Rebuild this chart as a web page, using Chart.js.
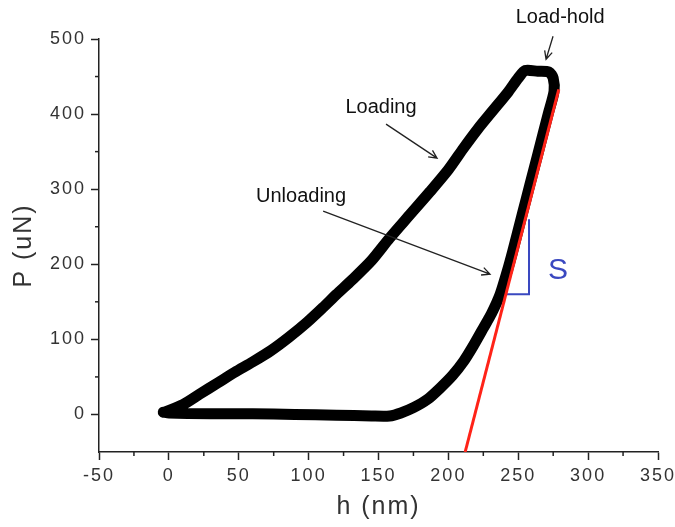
<!DOCTYPE html>
<html>
<head>
<meta charset="utf-8">
<script src="https://cdn.jsdelivr.net/npm/chart.js@4"></script>
<style>
  body { margin: 0; background: #fff; }
  canvas { display: block; }
</style>
</head>
<body>
<canvas id="curveChart" width="675" height="527"></canvas>
<script>
// loading branch, h (nm) / P (uN)
const loadH = [-3, 10, 22, 35, 47, 60, 73, 86, 99, 110, 120, 131, 145, 158, 172, 187, 200, 211, 221, 232, 243, 250, 255];
const loadP = [3, 13, 27, 42, 56, 70, 85, 103, 123, 142, 160, 179, 205, 235, 265, 297, 326, 355, 380, 405, 430, 448, 458];
// load-hold
const holdH = [264, 272];
const holdP = [457, 456];
// unloading branch
const unloadH = [275, 275.6, 271.4, 263.8, 258.2, 252.8, 246, 242, 237, 231, 225, 218, 211, 203, 194, 185, 175, 166, 158, 145, 120, 90, 60, 30, 0, -4];
const unloadP = [448, 430, 400, 345, 305, 266, 217, 190, 160, 135, 115, 92, 71, 52, 35, 20, 9, 2, -2, -2, -1, 0, 1, 1, 2, 3];
// tangent to the top of the unloading curve
const tangentH = [212, 279];
const tangentP = [-50, 433];
// the S bracket
const stiffH = [241.5, 257.7, 257.7];
const stiffP = [160, 160, 260];

const xTickLabels = [-50, 0, 50, 100, 150, 200, 250, 300, 350];
const yTickLabels = [0, 100, 200, 300, 400, 500];

const toPoints = (hs, ps) => hs.map((h, i) => ({ x: h, y: ps[i] }));
const curve = toPoints(loadH.concat(holdH, unloadH), loadP.concat(holdP, unloadP));

// text notes and arrows, in data units
const notes = [
  { text: 'Load-hold', at: [280, 528], from: [274.9, 503.7], to: [269.9, 473.1] },
  { text: 'Loading', at: [151.8, 409.2], from: [155.4, 386.6], to: [191.9, 341.4] },
  { text: 'Unloading', at: [94.6, 290.7], from: [110.4, 270.7], to: [229.8, 186.8] }
];

const notesPlugin = {
  id: 'notes',
  afterDraw(chart) {
    const ctx = chart.ctx;
    const xs = chart.scales.x, ys = chart.scales.y;
    const px = v => xs.getPixelForValue(v[0]);
    const py = v => ys.getPixelForValue(v[1]);

    // short minor ticks
    ctx.save();
    ctx.strokeStyle = '#222';
    ctx.lineWidth = 1.5;
    xs.ticks.forEach(t => {
      if (!xTickLabels.includes(t.value)) {
        const x = xs.getPixelForValue(t.value);
        ctx.beginPath(); ctx.moveTo(x, xs.top); ctx.lineTo(x, xs.top + 4); ctx.stroke();
      }
    });
    ys.ticks.forEach(t => {
      if (!yTickLabels.includes(t.value) && t.value !== -50) {
        const y = ys.getPixelForValue(t.value);
        ctx.beginPath(); ctx.moveTo(ys.right, y); ctx.lineTo(ys.right - 4, y); ctx.stroke();
      }
    });

    ctx.fillStyle = '#111';
    ctx.font = '20px "Liberation Sans", Arial, sans-serif';
    ctx.textAlign = 'center';
    ctx.textBaseline = 'middle';
    ctx.lineWidth = 1.3;
    notes.forEach(n => {
      ctx.fillText(n.text, px(n.at), py(n.at));
      const x1 = px(n.from), y1 = py(n.from), x2 = px(n.to), y2 = py(n.to);
      const a = Math.atan2(y2 - y1, x2 - x1);
      ctx.beginPath();
      ctx.moveTo(x1, y1); ctx.lineTo(x2, y2);
      ctx.moveTo(x2 - 9 * Math.cos(a - 0.45), y2 - 9 * Math.sin(a - 0.45));
      ctx.lineTo(x2, y2);
      ctx.lineTo(x2 - 9 * Math.cos(a + 0.45), y2 - 9 * Math.sin(a + 0.45));
      ctx.stroke();
    });

    ctx.fillStyle = '#3a48c0';
    ctx.font = '30px "Liberation Sans", Arial, sans-serif';
    ctx.textAlign = 'left';
    ctx.fillText('S', xs.getPixelForValue(271.3), ys.getPixelForValue(192));
    ctx.restore();
  }
};

const spacing = {
  id: 'spacing',
  beforeDraw(chart) { chart.ctx.letterSpacing = '2px'; },
  beforeDatasetsDraw(chart) { chart.ctx.letterSpacing = '0px'; }
};

const tickFont = { family: '"Liberation Sans", Arial, sans-serif', size: 18 };
const titleFont = { family: '"Liberation Sans", Arial, sans-serif', size: 25 };

new Chart(document.getElementById('curveChart'), {
  type: 'scatter',
  data: {
    datasets: [
      {
        data: toPoints(tangentH, tangentP),
        showLine: true, borderColor: '#ff2318', borderWidth: 3,
        pointRadius: 0, order: 0
      },
      {
        data: toPoints(stiffH, stiffP),
        showLine: true, borderColor: '#3a48c0', borderWidth: 2,
        pointRadius: 0, order: 1
      },
      {
        data: curve,
        showLine: true, borderColor: '#000', borderWidth: 11,
        borderJoinStyle: 'round', borderCapStyle: 'round', tension: 0.25,
        pointRadius: 0, order: 2
      }
    ]
  },
  options: {
    responsive: false,
    animation: false,
    layout: { padding: { top: 39, right: 17, left: 0, bottom: 0 } },
    plugins: { legend: { display: false }, tooltip: { enabled: false } },
    scales: {
      x: {
        min: -50, max: 350,
        afterFit(s) { s.height = 75; s.paddingLeft = 0; s.paddingRight = 0; },
        ticks: {
          stepSize: 25, padding: 5, color: '#333', font: tickFont,
          autoSkip: false, maxRotation: 0, minRotation: 0,
          callback: v => xTickLabels.includes(v) ? v : ''
        },
        grid: {
          drawOnChartArea: false, tickLength: 8, tickWidth: 1.5,
          tickColor: c => (c.tick && xTickLabels.includes(c.tick.value)) ? '#222' : 'rgba(0,0,0,0)'
        },
        border: { color: '#222', width: 1.5 },
        title: { display: true, text: 'h (nm)', color: '#333', font: titleFont, padding: { bottom: 5 } }
      },
      y: {
        min: -50, max: 500,
        afterFit(s) { s.width = 99; s.paddingTop = 0; s.paddingBottom = 0; },
        ticks: {
          stepSize: 50, padding: 5, color: '#333', font: tickFont,
          callback: v => yTickLabels.includes(v) ? v : ''
        },
        grid: {
          drawOnChartArea: false, tickLength: 8, tickWidth: 1.5,
          tickColor: c => (c.tick && yTickLabels.includes(c.tick.value)) ? '#222' : 'rgba(0,0,0,0)'
        },
        border: { color: '#222', width: 1.5 },
        title: { display: true, text: 'P (uN)', color: '#333', font: titleFont, padding: { top: 9 } }
      }
    }
  },
  plugins: [spacing, notesPlugin]
});
</script>
</body>
</html>
